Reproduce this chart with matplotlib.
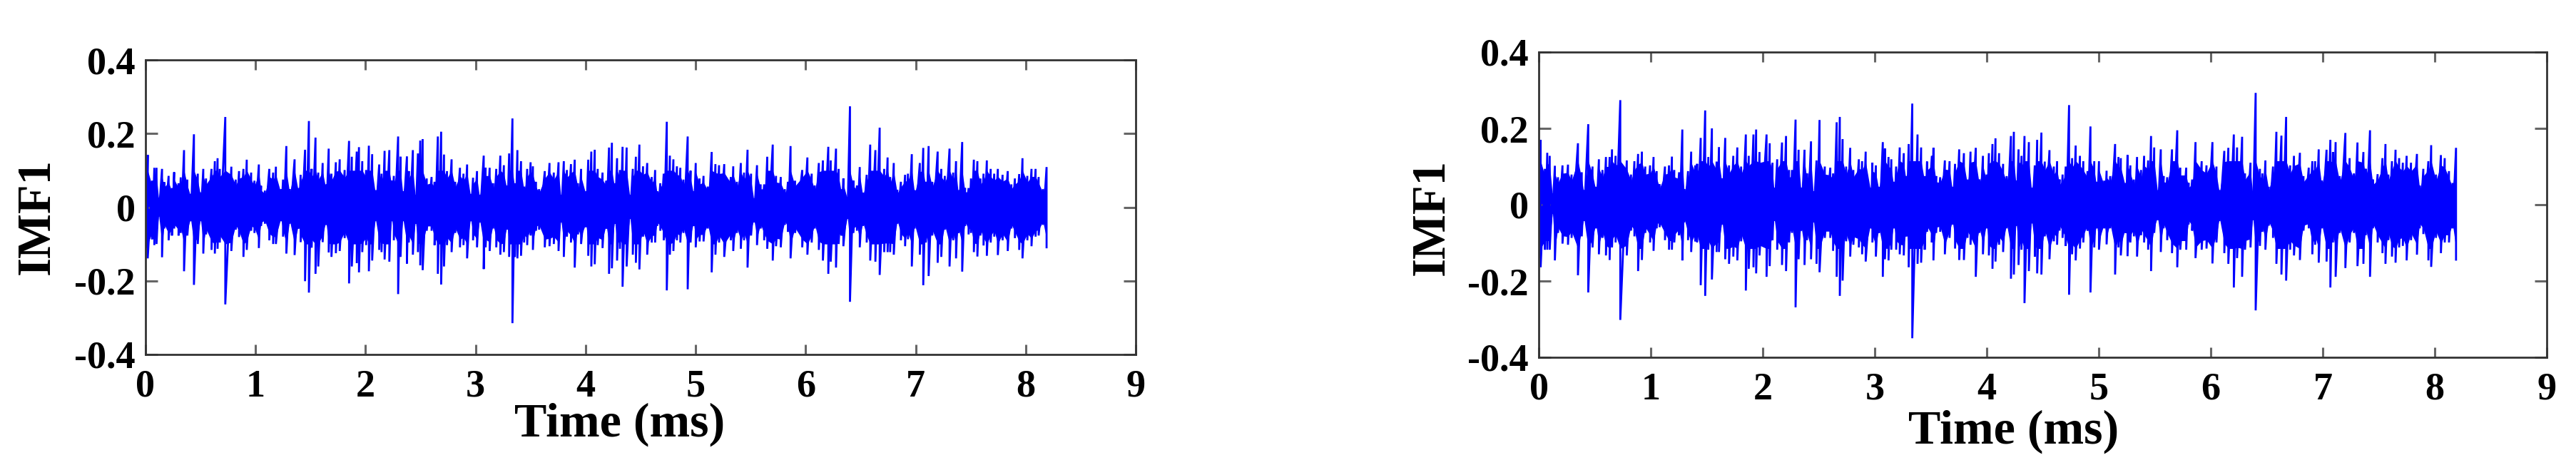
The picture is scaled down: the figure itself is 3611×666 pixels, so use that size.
import numpy as np
import matplotlib
matplotlib.use('Agg')
from matplotlib import pyplot as plt

# spikes: (time ms, top value, bottom value)
left_1 = [(.005,.120,-.110),(.02,.142,-.139),(.06,.072,-.087),(.08,.107,-.103),(.10,.107,-.100),(.12,.026,-.025),(.15,.104,-.136),
    (.17,.068,-.058),(.21,.085,-.090),(.24,.052,-.077),(.26,.095,-.058),(.30,.065,-.077),(.32,.081,-.070),(.35,.155,-.174),
    (.38,.075,-.077),(.41,.036,-.038),(.44,.198,-.211),(.475,.091,-.100),(.50,.040,-.038),(.525,.104,-.126),(.55,.078,-.074),
    (.60,.104,-.116),(.63,.125,-.126),(.655,.133,-.113),(.675,.104,-.096),(.725,.245,-.264),(.78,.110,-.119),(.82,.075,-.061),
    (.85,.098,-.081),(.89,.104,-.135),(.92,.129,-.116),(.96,.094,-.064),(.99,.072,-.070),(1.03,.116,-.111),(1.05,.058,-.051),
    (1.085,.045,-.045),(1.125,.104,-.090),(1.16,.094,-.100),(1.185,.110,-.100),(1.23,.049,-.038),(1.25,.075,-.080),(1.28,.166,-.126),
    (1.31,.049,-.045),(1.355,.130,-.130),(1.39,.052,-.058),(1.41,.088,-.095),(1.45,.156,-.201),(1.485,.234,-.232),(1.51,.104,-.110),
    (1.545,.189,-.181),(1.57,.094,-.161),(1.61,.120,-.095),(1.64,.062,-.048),(1.665,.159,-.123),(1.69,.091,-.135),(1.73,.122,-.125),
    (1.765,.130,-.119),(1.81,.101,-.084),(1.85,.180,-.207),(1.875,.137,-.161),(1.92,.151,-.152),(1.94,.163,-.177),(1.97,.125,-.122),
    (2.005,.101,-.103),(2.03,.167,-.174),(2.06,.144,-.145)]
left_2 = [(2.09,.046,-.038),(2.124,.116,-.116),(2.145,.091,-.122),(2.173,.153,-.142),(2.216,.155,-.148),(2.238,.072,-.038),(2.257,.085,-.090),
    (2.296,.192,-.236),(2.318,.137,-.135),(2.34,.043,-.038),(2.376,.138,-.153),(2.393,.098,-.096),(2.43,.155,-.129),(2.454,.033,-.045),
    (2.476,.146,-.122),(2.497,.181,-.158),(2.519,.185,-.171),(2.556,.078,-.064),(2.6,.082,-.064),(2.627,.069,-.103),(2.657,.192,-.181),
    (2.687,.205,-.210),(2.713,.143,-.161),(2.74,.098,-.103),(2.782,.130,-.122),(2.815,.069,-.070),(2.858,.107,-.109),(2.89,.091,-.103),
    (2.923,.116,-.139),(2.955,.036,-.038),(2.977,.080,-.090),(3.013,.098,-.109),(3.037,.033,-.041),(3.074,.140,-.168),(3.091,.107,-.109),
    (3.128,.107,-.119),(3.16,.065,-.058),(3.188,.104,-.109),(3.225,.140,-.129),(3.257,.114,-.122),(3.286,.059,-.061),(3.305,.146,-.135),
    (3.335,.241,-.315),(3.357,.065,-.135),(3.38,.155,-.139),(3.413,.125,-.132),(3.441,.056,-.096),(3.469,.104,-.103),(3.50,.122,-.077),
    (3.521,.111,-.116),(3.549,.069,-.064),(3.577,.049,-.061),(3.629,.098,-.109),(3.672,.120,-.106),(3.711,.094,-.100),(3.754,.122,-.119),
    (3.776,.033,-.041),(3.802,.125,-.135),(3.83,.101,-.080),(3.867,.117,-.096),(3.901,.129,-.164),(3.931,.065,-.074),(3.959,.104,-.100),
    (4.003,.043,-.054),(4.024,.129,-.132),(4.052,.151,-.161),(4.083,.156,-.155),(4.11,.104,-.103),(4.154,.094,-.111)]
left_3 = [(4.187,.072,-.058),(4.213,.162,-.181),(4.239,.175,-.166),(4.265,.065,-.045),(4.286,.133,-.145),(4.312,.101,-.113),(4.336,.164,-.216),
    (4.373,.162,-.161),(4.403,.033,-.032),(4.429,.104,-.129),(4.457,.137,-.151),(4.489,.170,-.169),(4.522,.111,-.080),(4.56,.120,-.129),
    (4.601,.082,-.096),(4.632,.101,-.096),(4.651,.043,-.051),(4.679,.065,-.064),(4.71,.091,-.090),(4.738,.232,-.226),(4.766,.140,-.129),
    (4.798,.130,-.119),(4.83,.111,-.090),(4.861,.107,-.096),(4.889,.075,-.070),(4.928,.192,-.223),(4.954,.099,-.096),(4.982,.043,-.051),
    (5.001,.120,-.109),(5.036,.078,-.093),(5.072,.085,-.093),(5.111,.056,-.058),(5.146,.150,-.177),(5.18,.117,-.129),(5.213,.114,-.096),
    (5.26,.117,-.135),(5.32,.082,-.090),(5.342,.111,-.119),(5.375,.069,-.070),(5.411,.120,-.113),(5.44,.094,-.090),(5.472,.156,-.164),
    (5.504,.091,-.077),(5.53,.023,-.041),(5.558,.114,-.103),(5.591,.062,-.058),(5.623,.062,-.090),(5.651,.137,-.113),(5.701,.170,-.145),
    (5.731,.085,-.106),(5.774,.082,-.109),(5.811,.049,-.048),(5.839,.069,-.067),(5.863,.166,-.139),(5.904,.072,-.070),(5.969,.101,-.109),
    (6.016,.135,-.129),(6.055,.091,-.096),(6.083,.059,-.058),(6.12,.120,-.116),(6.157,.127,-.145),(6.206,.164,-.181),(6.228,.127,-.148)]
left_4 = [(6.276,.159,-.164),(6.30,.104,-.100),(6.326,.049,-.077),(6.343,.078,-.106),(6.38,.027,-.032),(6.403,.274,-.257),(6.434,.072,-.070),
    (6.466,.059,-.064),(6.492,.109,-.109),(6.52,.039,-.051),(6.555,.088,-.096),(6.587,.170,-.145),(6.634,.155,-.148),(6.673,.216,-.184),
    (6.714,.104,-.122),(6.745,.135,-.122),(6.768,.082,-.122),(6.801,.120,-.129),(6.833,.047,-.045),(6.866,.069,-.090),(6.904,.088,-.106),
    (6.93,.091,-.087),(6.965,.144,-.161),(6.991,.046,-.058),(7.038,.120,-.129),(7.069,.161,-.212),(7.092,.069,-.096),(7.118,.166,-.187),
    (7.151,.069,-.077),(7.2,.151,-.151),(7.233,.104,-.135),(7.265,.085,-.061),(7.308,.159,-.161),(7.341,.094,-.090),(7.367,.125,-.139),
    (7.388,.046,-.070),(7.423,.177,-.175),(7.449,.052,-.051),(7.481,.052,-.074),(7.503,.078,-.070),(7.529,.129,-.122),(7.561,.125,-.134),
    (7.589,.078,-.077),(7.617,.091,-.104),(7.647,.127,-.132),(7.682,.104,-.096),(7.714,.091,-.080),(7.747,.104,-.130),(7.79,.088,-.090),
    (7.837,.098,-.119),(7.87,.062,-.058),(7.902,.078,-.084),(7.941,.090,-.116),(7.971,.133,-.139),(8.015,.085,-.090),(8.053,.104,-.106),
    (8.09,.104,-.080),(8.118,.082,-.077),(8.157,.049,-.048),(8.19,.109,-.109)]

right_1 = [(.005,.150,-.140),(.017,.170,-.164),(.055,.094,-.118),(.076,.136,-.118),(.098,.128,-.118),(.123,.029,-.024),(.144,.102,-.146),
    (.172,.072,-.074),(.212,.103,-.102),(.261,.105,-.105),(.293,.079,-.087),(.35,.161,-.185),(.384,.085,-.083),(.403,.038,-.043),
    (.442,.211,-.230),(.48,.100,-.112),(.51,.047,-.062),(.537,.119,-.130),(.569,.091,-.087),(.60,.125,-.133),(.633,.125,-.145),
    (.654,.145,-.112),(.686,.128,-.099),(.728,.274,-.302),(.786,.116,-.133),(.824,.079,-.068),(.854,.114,-.083),(.887,.133,-.174),
    (.921,.139,-.145),(.951,.100,-.074),(.994,.103,-.099),(1.025,.125,-.121),(1.053,.088,-.062),(1.079,.054,-.059),(1.127,.100,-.093),
    (1.163,.103,-.118),(1.189,.126,-.118),(1.21,.091,-.099),(1.253,.085,-.080),(1.282,.197,-.146),(1.299,.041,-.046),(1.333,.088,-.093),
    (1.361,.139,-.124),(1.397,.103,-.096),(1.414,.107,-.099),(1.446,.175,-.211),(1.486,.247,-.239),(1.514,.125,-.118),(1.546,.200,-.196),
    (1.588,.113,-.124),(1.609,.151,-.124),(1.637,.069,-.052),(1.665,.175,-.143),(1.699,.103,-.155),(1.737,.128,-.136),(1.773,.150,-.146),
    (1.807,.100,-.096),(1.849,.184,-.225),(1.875,.128,-.168),(1.917,.184,-.164),(1.941,.197,-.180),(1.971,.138,-.133),(2.034,.184,-.189),
    (2.062,.161,-.161)]
right_2 = [(2.087,.110,-.093),(2.102,.044,-.043),(2.129,.119,-.118),(2.172,.163,-.158),(2.208,.180,-.174),(2.235,.091,-.099),(2.261,.091,-.074),
    (2.293,.223,-.269),(2.32,.144,-.143),(2.342,.044,-.068),(2.373,.144,-.158),(2.395,.082,-.093),(2.431,.166,-.143),(2.452,.035,-.046),
    (2.48,.116,-.155),(2.507,.222,-.177),(2.554,.100,-.087),(2.603,.097,-.087),(2.628,.082,-.121),(2.66,.216,-.189),(2.688,.230,-.239),
    (2.713,.172,-.199),(2.745,.100,-.096),(2.781,.149,-.136),(2.809,.091,-.105),(2.858,.119,-.112),(2.887,.114,-.130),(2.919,.139,-.149),
    (2.964,.044,-.062),(2.979,.110,-.099),(3.01,.103,-.136),(3.038,.047,-.074),(3.072,.164,-.189),(3.091,.147,-.143),(3.123,.125,-.146),
    (3.148,.119,-.118),(3.17,.060,-.062),(3.191,.100,-.118),(3.223,.150,-.130),(3.259,.135,-.133),(3.282,.075,-.083),(3.303,.159,-.164),
    (3.335,.265,-.350),(3.382,.184,-.155),(3.414,.150,-.152),(3.446,.075,-.118),(3.467,.113,-.071),(3.51,.128,-.099),(3.524,.149,-.146),
    (3.548,.075,-.074),(3.584,.072,-.071),(3.626,.116,-.130),(3.668,.114,-.087),(3.694,.047,-.052),(3.717,.107,-.115),(3.754,.145,-.145),
    (3.796,.135,-.145),(3.828,.066,-.087),(3.855,.139,-.105),(3.902,.149,-.189),(3.934,.066,-.074),(3.966,.128,-.130),(3.998,.079,-.062),
    (4.019,.135,-.133),(4.051,.159,-.168),(4.078,.174,-.149),(4.11,.135,-.105),(4.146,.107,-.124)]
right_3 = [(4.178,.075,-.062),(4.216,.180,-.194),(4.242,.191,-.183),(4.263,.063,-.055),(4.284,.145,-.158),(4.31,.128,-.118),(4.337,.180,-.258),
    (4.376,.164,-.174),(4.401,.044,-.049),(4.429,.103,-.136),(4.45,.170,-.180),(4.488,.189,-.183),(4.518,.113,-.083),(4.56,.143,-.143),
    (4.599,.100,-.096),(4.628,.114,-.105),(4.65,.066,-.068),(4.677,.079,-.087),(4.705,.100,-.108),(4.735,.261,-.236),(4.762,.122,-.130),
    (4.794,.155,-.146),(4.832,.128,-.115),(4.862,.114,-.099),(4.9,.088,-.068),(4.926,.205,-.230),(4.96,.114,-.112),(4.981,.060,-.062),
    (5.002,.114,-.118),(5.049,.063,-.062),(5.07,.089,-.104),(5.102,.075,-.062),(5.146,.159,-.183),(5.176,.125,-.112),(5.197,.122,-.133),
    (5.24,.057,-.074),(5.257,.130,-.135),(5.282,.103,-.099),(5.314,.066,-.083),(5.342,.125,-.136),(5.378,.091,-.080),(5.405,.128,-.099),
    (5.441,.116,-.118),(5.467,.180,-.174),(5.495,.150,-.074),(5.526,.038,-.040),(5.554,.145,-.124),(5.579,.075,-.062),(5.611,.072,-.093),
    (5.654,.145,-.127),(5.701,.195,-.164),(5.728,.097,-.118),(5.781,.097,-.118),(5.802,.057,-.052),(5.834,.066,-.068),(5.864,.164,-.140),
    (5.919,.114,-.118),(5.962,.103,-.115),(6.015,.164,-.154),(6.051,.100,-.099),(6.078,.038,-.043),(6.121,.141,-.127),(6.157,.149,-.155),
    (6.206,.184,-.217),(6.235,.150,-.140),(6.28,.178,-.189)]
right_4 = [(6.306,.082,-.118),(6.355,.110,-.112),(6.376,.032,-.040),(6.401,.293,-.277),(6.439,.094,-.108),(6.461,.082,-.071),(6.488,.116,-.118),
    (6.518,.047,-.055),(6.556,.100,-.087),(6.586,.191,-.155),(6.631,.181,-.183),(6.673,.230,-.199),(6.709,.103,-.118),(6.743,.128,-.133),
    (6.796,.136,-.145),(6.828,.075,-.068),(6.875,.097,-.062),(6.907,.114,-.130),(6.932,.114,-.105),(6.964,.145,-.152),(6.991,.063,-.062),
    (7.034,.144,-.149),(7.068,.170,-.217),(7.091,.138,-.099),(7.115,.164,-.189),(7.151,.075,-.074),(7.202,.188,-.166),(7.24,.122,-.099),
    (7.278,.082,-.074),(7.31,.163,-.161),(7.363,.138,-.155),(7.384,.094,-.080),(7.422,.195,-.189),(7.448,.066,-.062),(7.49,.080,-.099),
    (7.533,.122,-.127),(7.56,.159,-.155),(7.586,.079,-.093),(7.618,.114,-.136),(7.65,.144,-.152),(7.682,.122,-.112),(7.715,.110,-.108),
    (7.749,.128,-.146),(7.788,.110,-.093),(7.841,.133,-.131),(7.866,.050,-.062),(7.898,.094,-.077),(7.943,.114,-.146),(7.968,.156,-.163),
    (8.011,.079,-.087),(8.055,.130,-.127),(8.089,.122,-.099),(8.127,.088,-.099),(8.159,.057,-.062),(8.19,.149,-.144)]

xticks = [0,1,2,3,4,5,6,7,8,9]
yticks = [-0.4,-0.2,0,0.2,0.4]
ylabels = ['-0.4','-0.2','0','0.2','0.4']

W, H = 3611, 666
plt.rcParams['font.family'] = ['Liberation Serif', 'DejaVu Serif']
plt.rcParams['font.weight'] = 'bold'
fig = plt.figure(figsize=(W/100, H/100), dpi=100, facecolor='white')

def panel(box, rows, cap, xlab, ylab):
    x0, y0, x1, y1 = box
    ax = fig.add_axes([x0/W, 1-y1/H, (x1-x0)/W, (y1-y0)/H])
    t = np.array([r[0] for r in rows])
    hi = np.array([r[1] for r in rows])
    lo = np.array([r[2] for r in rows])
    # body of the trace is solid, only the spikes stick out of it
    ax.fill_between(t, np.maximum(lo*.8, -cap), np.minimum(hi*.8, cap), color='#0000ff', lw=0)
    ax.plot(np.repeat(t, 2), np.column_stack([hi, lo]).ravel(), color='#0000ff', lw=2.0, solid_joinstyle='miter')
    ax.set_xlim(0, 9)
    ax.set_ylim(-0.4, 0.4)
    ax.set_xticks(xticks)
    ax.set_yticks(yticks)
    ax.set_yticklabels(ylabels)
    ax.tick_params(axis='x', direction='in', length=10, width=2.2, color='#666666', top=True, labelsize=39, pad=15)
    ax.tick_params(axis='y', direction='in', length=12, width=2.2, color='#666666', right=True, labelsize=39, pad=10)
    for s in ax.spines.values():
        s.set_linewidth(2)
        s.set_color('#333333')
    ax.set_xlabel('Time (ms)', fontsize=49, fontweight='bold', va='center')
    ax.set_ylabel('IMF1', fontsize=48, fontweight='bold', va='center')
    ax.xaxis.set_label_coords(*xlab)
    ax.yaxis.set_label_coords(*ylab)

panel((204, 84, 1592, 497), left_1+left_2+left_3+left_4, .1, (.479, -.238), (-.1095, .468))
panel((2157, 73, 3570, 501), right_1+right_2+right_3+right_4, .115, (.471, -.243), (-.106, .46))

fig.savefig('out.png', dpi=100)
